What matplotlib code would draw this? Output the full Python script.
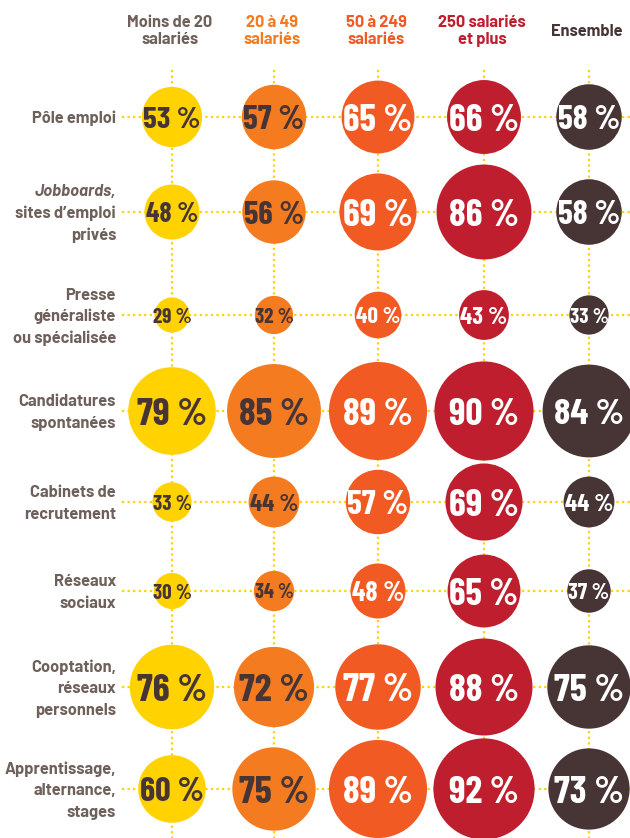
import matplotlib
matplotlib.use("Agg")
import matplotlib.pyplot as plt
from matplotlib.font_manager import FontProperties
from matplotlib.textpath import TextPath

# ---- data ----
columns = ["Moins de 20\nsalariés", "20 à 49\nsalariés", "50 à 249\nsalariés",
           "250 salariés\net plus", "Ensemble"]
rows = [["Pôle emploi"],
        ["Jobboards,", "sites d’emploi", "privés"],
        ["Presse", "généraliste", "ou spécialisée"],
        ["Candidatures", "spontanées"],
        ["Cabinets de", "recrutement"],
        ["Réseaux", "sociaux"],
        ["Cooptation,", "réseaux", "personnels"],
        ["Apprentissage,", "alternance,", "stages"]]
moins20 = [53, 48, 29, 79, 33, 30, 76, 60]
de20a49 = [57, 56, 32, 85, 44, 34, 72, 75]
de50a249 = [65, 69, 40, 89, 57, 48, 77, 89]
plus250 = [66, 86, 43, 90, 69, 65, 88, 92]
ensemble = [58, 58, 33, 84, 44, 37, 75, 73]
series = [moins20, de20a49, de50a249, plus250, ensemble]

# ---- style ----
col_colors = ["#FFD200", "#F47B20", "#F15A22", "#BE1E2D", "#473535"]
head_colors = ["#6E605B", "#F47B20", "#F15A22", "#BE1E2D", "#473535"]
txt_colors = ["#473535", "#473535", "white", "white", "white"]
label_color = "#6E605B"
grid_color = "#FFD200"

W, H, DPI = 630, 838, 100
px2pt = 72 / DPI
col_x = [172, 274, 378, 484, 589]
row_y = [117, 212, 315, 411, 502, 591, 687, 789]

pct_fam = ["Barlow Condensed", "Liberation Sans Narrow", "DejaVu Sans"]
lab_fam = ["Barlow", "Liberation Sans", "DejaVu Sans"]

fig = plt.figure(figsize=(W / DPI, H / DPI), dpi=DPI)
ax = fig.add_axes([0, 0, 1, 1])
ax.set_xlim(0, W)
ax.set_ylim(H, 0)
ax.axis("off")
renderer = fig.canvas.get_renderer()

# grid lines
for y in row_y:
    ax.plot([122, W], [y, y], color=grid_color, lw=1.6,
            ls=(0, (1, 1.5)), zorder=1)
for x in col_x:
    ax.plot([x, x], [70, H], color=grid_color, lw=1.6,
            ls=(0, (1, 1.5)), zorder=1)

pct_fp = FontProperties(family=pct_fam, weight=700)
digit_h = TextPath((0, 0), "8", size=100, prop=pct_fp).get_extents().height / 100.0

for j, vals in enumerate(series):
    for i, v in enumerate(vals):
        r_px = 2.3 + 0.525 * v
        s = (2 * r_px * px2pt) ** 2
        ax.scatter([col_x[j]], [row_y[i]], s=s, color=col_colors[j],
                   edgecolors="none", zorder=3)
        target_w = max(min(0.95 * 2 * r_px, 70), 39)
        t = ax.text(col_x[j], row_y[i], f"{v} %", ha="center", va="baseline",
                    fontsize=20, family=pct_fam,
                    fontweight=700, color=txt_colors[j], zorder=4)
        wpx = t.get_window_extent(renderer).width
        fs = 20 * target_w / wpx
        t.set_fontsize(fs)
        cap_px = digit_h * fs / px2pt
        t.set_y(row_y[i] + cap_px / 2)

# headers
for j, name in enumerate(columns):
    ax.text(col_x[j] - 2, 31, name, ha="center", va="center", fontsize=11.8,
            fontweight=700, color=head_colors[j], linespacing=1.15,
            family=lab_fam)

# row labels (one text per line so the first word can be italic)
line_gap = 21.5
for i, lines in enumerate(rows):
    n = len(lines)
    for k, line in enumerate(lines):
        y = row_y[i] + (k - (n - 1) / 2) * line_gap
        style = "italic" if (i == 1 and k == 0) else "normal"
        ax.text(116, y, line, ha="right", va="center_baseline", fontsize=11.8,
                fontweight=700, style=style, color=label_color, family=lab_fam)

fig.savefig("out.png", dpi=DPI, facecolor="white")
